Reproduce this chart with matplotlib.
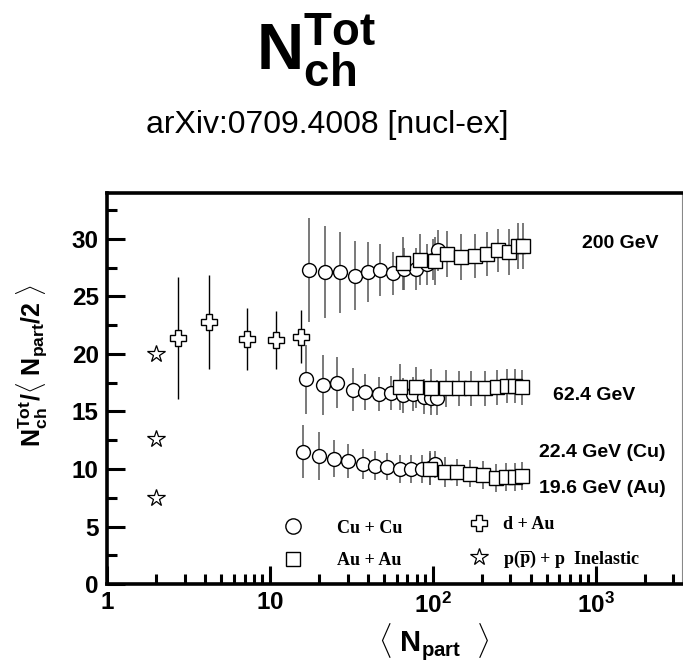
import matplotlib
matplotlib.use("Agg")
import matplotlib.pyplot as plt
from matplotlib.font_manager import FontProperties
from matplotlib.ticker import FixedLocator, LogLocator, NullFormatter

plt.rcParams['font.family'] = ['Liberation Sans', 'DejaVu Sans']
plt.rcParams['mathtext.fontset'] = 'custom'
plt.rcParams['mathtext.rm'] = 'Liberation Sans'
plt.rcParams['mathtext.bf'] = 'Liberation Sans:bold'
plt.rcParams['mathtext.it'] = 'Liberation Sans:italic'

# d + Au at 200 GeV
dau_npart = [2.73, 4.23, 7.2, 10.9, 15.5]
dau_val = [21.4, 22.8, 21.3, 21.2, 21.5]
dau_err = [5.3, 4.1, 2.7, 2.5, 2.3]

# p(pbar) + p inelastic
pp_npart = [2.0, 2.0, 2.0]
pp_val = [20.0, 12.6, 7.5]

# Cu + Cu 200 GeV
cu200_npart = [17.3, 21.7, 26.9, 33.2, 39.8, 47.3, 56.9, 66.3, 79.5, 91.6, 100, 107]
cu200_val = [27.3, 27.1, 27.1, 26.8, 27.1, 27.3, 27.0, 27.4, 27.4, 27.8, 28.2, 29.0]
cu200_err = [4.5, 4.0, 3.5, 3.0, 2.6, 2.3, 1.9, 1.8, 1.8, 1.8, 1.8, 1.8]

# Au + Au 200 GeV
au200_npart = [65.5, 83, 103, 123, 150, 183, 214, 250, 296, 332, 357]
au200_val = [27.9, 28.2, 28.1, 28.7, 28.4, 28.5, 28.7, 29.0, 28.9, 29.4, 29.4]
au200_err = [2.3, 2.2, 2.1, 2.0, 2.0, 1.9, 1.9, 1.9, 2.0, 2.0, 2.0]

# Cu + Cu 62.4 GeV
cu62_npart = [16.6, 21.1, 25.7, 32.2, 38.3, 46.7, 55.3, 65.3, 76, 88, 98, 106]
cu62_val = [17.8, 17.3, 17.5, 16.9, 16.7, 16.5, 16.6, 16.4, 16.5, 16.3, 16.2, 16.2]
cu62_err = [3.0, 2.6, 2.2, 1.9, 1.6, 1.5, 1.5, 1.5, 1.5, 1.5, 1.5, 1.5]

# Au + Au 62.4 GeV
au62_npart = [63, 78.5, 97, 120, 144, 173, 208, 247, 285, 322, 351]
au62_val = [17.1, 17.1, 17.0, 17.0, 17.0, 17.0, 17.0, 17.1, 17.2, 17.2, 17.1]
au62_err = [2.0, 1.8, 1.7, 1.6, 1.5, 1.5, 1.5, 1.5, 1.5, 1.5, 1.5]

# Cu + Cu 22.4 GeV
cu22_npart = [16, 20, 24.8, 30.1, 37.2, 44.2, 52.7, 63, 74, 86, 96, 103]
cu22_val = [11.5, 11.1, 10.9, 10.7, 10.4, 10.3, 10.2, 10.0, 10.0, 10.0, 10.1, 10.4]
cu22_err = [2.3, 2.1, 1.6, 1.5, 1.3, 1.3, 1.2, 1.2, 1.2, 1.2, 1.5, 1.2]

# Au + Au 19.6 GeV
au19_npart = [96, 119, 141, 170, 205, 246, 283, 318, 352]
au19_val = [10.0, 9.7, 9.7, 9.6, 9.5, 9.2, 9.3, 9.3, 9.4]
au19_err = [1.4, 1.3, 1.2, 1.2, 1.2, 1.2, 1.2, 1.2, 1.2]

energy_labels = ['200 GeV', '62.4 GeV', '22.4 GeV (Cu)', '19.6 GeV (Au)']
energy_label_x = [830, 545, 450, 450]
energy_label_y = [29.6, 16.4, 11.4, 8.3]

fig = plt.figure(figsize=(6.83, 6.65), dpi=100)
ax = fig.add_axes([0.1567, 0.1218, 0.842, 0.588])

ebar = dict(ls='none', ecolor='#555555', elinewidth=1.1, capsize=0,
            mec='black', mfc='white', mew=1.0)

# Cu + Cu circles and Au + Au squares for each energy
for x, y, e in [(cu200_npart, cu200_val, cu200_err),
                (cu62_npart, cu62_val, cu62_err),
                (cu22_npart, cu22_val, cu22_err)]:
    ax.errorbar(x, y, yerr=e, marker='o', ms=10, zorder=3, **ebar)
for x, y, e in [(au200_npart, au200_val, au200_err),
                (au62_npart, au62_val, au62_err),
                (au19_npart, au19_val, au19_err)]:
    ax.errorbar(x, y, yerr=e, marker='s', ms=9.5, zorder=3, **ebar)

ax.errorbar(dau_npart, dau_val, yerr=dau_err, ls='none', ecolor='black',
            elinewidth=1.0, marker='P', ms=12, mfc='white', mec='black',
            mew=1.0, zorder=3)
ax.plot(pp_npart, pp_val, ls='none', marker='*', ms=13, mfc='white',
        mec='black', mew=0.9, zorder=3)

for lab, x, y in zip(energy_labels, energy_label_x, energy_label_y):
    ax.text(x, y, lab, fontsize=14, fontweight='bold', va='center', ha='left')

ax.set_xscale('log')
ax.set_xlim(1, 3400)
ax.set_ylim(0, 34)

ax.xaxis.set_major_locator(FixedLocator([1, 10, 100, 1000]))
ax.set_xticklabels([r'$\mathbf{1}$', r'$\mathbf{10}$', r'$\mathbf{10^2}$', r'$\mathbf{10^3}$'])
ax.xaxis.set_minor_locator(LogLocator(base=10, subs=range(2, 10)))
ax.xaxis.set_minor_formatter(NullFormatter())
ax.yaxis.set_major_locator(FixedLocator([0, 5, 10, 15, 20, 25, 30]))
ax.yaxis.set_minor_locator(FixedLocator([2.5, 7.5, 12.5, 17.5, 22.5, 27.5, 32.5]))

ax.tick_params(which='both', direction='in', width=2.2, top=False, right=False)
ax.tick_params(which='major', length=13, labelsize=17.5, pad=6)
ax.tick_params(which='minor', length=7)
for lab in ax.get_yticklabels():
    lab.set_fontweight('bold')

for side in ['left', 'bottom', 'top']:
    ax.spines[side].set_linewidth(2.6)
ax.spines['right'].set_linewidth(0.8)
ax.spines['right'].set_color('#888888')

ax.set_xlabel(r'$\langle\ \mathbf{N_{part}}\ \ \rangle$', fontsize=21)
ax.xaxis.set_label_coords(0.569, -0.095)
ax.set_ylabel(r'$\mathbf{N_{ch}^{Tot}/\langle\ N_{part}/2\ \rangle}$', fontsize=18)
ax.yaxis.set_label_coords(-0.1, 0.56)

# legend: two separate columns
h_cu = ax.plot([], [], ls='none', marker='o', ms=11, mfc='white', mec='black', mew=1.0)[0]
h_au = ax.plot([], [], ls='none', marker='s', ms=10, mfc='white', mec='black', mew=1.0)[0]
h_da = ax.plot([], [], ls='none', marker='P', ms=12, mfc='white', mec='black', mew=1.0)[0]
h_pp = ax.plot([], [], ls='none', marker='*', ms=13, mfc='white', mec='black', mew=0.9)[0]
leg_font = FontProperties(family='Liberation Serif', weight='bold', size=13,
                          math_fontfamily='stix')
leg1 = ax.legend([h_cu, h_au], ['Cu + Cu', 'Au + Au'],
                 prop=leg_font, frameon=False, loc='lower left',
                 bbox_to_anchor=(0.277, -0.008), handlelength=1.0,
                 handletextpad=1.9, labelspacing=0.85, borderpad=0.5)
ax.add_artist(leg1)
ax.legend([h_da, h_pp], ['d + Au', r'p($\mathbf{\overline{p}}$) + p  Inelastic'],
          prop=leg_font, frameon=False, loc='lower left',
          bbox_to_anchor=(0.599, -0.01), handlelength=1.0,
          handletextpad=0.85, labelspacing=0.85, borderpad=0.5)

fig.text(0.463, 0.925, r'$\mathbf{N_{ch}^{Tot}}$', fontsize=47, ha='center', va='center')
fig.text(0.479, 0.812, 'arXiv:0709.4008 [nucl-ex]', fontsize=23, ha='center', va='center')

fig.savefig('out.png', dpi=100)
